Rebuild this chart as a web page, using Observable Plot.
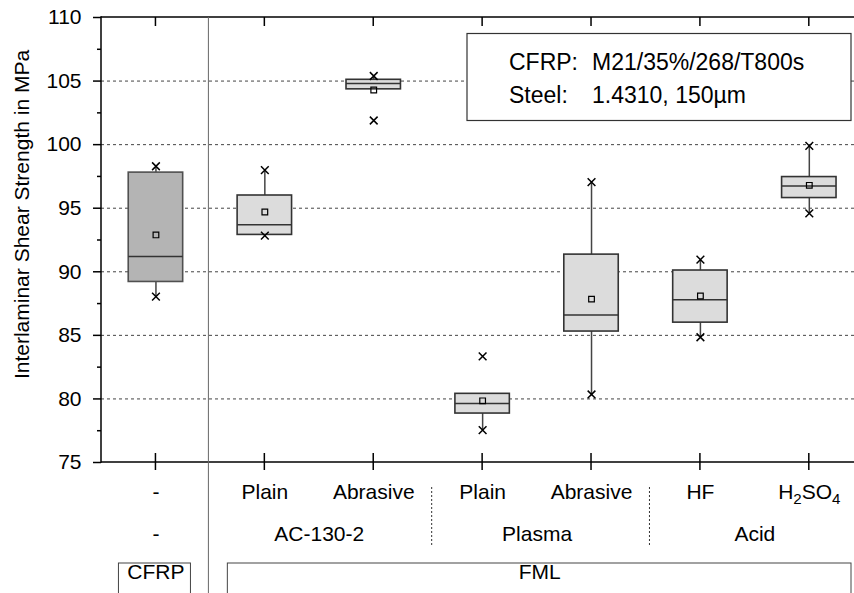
<!DOCTYPE html>
<html><head><meta charset="utf-8">
<script src="https://cdn.jsdelivr.net/npm/d3@7"></script>
<script src="https://cdn.jsdelivr.net/npm/@observablehq/plot@0.6"></script>
<style>
body{margin:0;background:#fff;}
#chart{width:854px;height:593px;overflow:hidden;}
</style>
</head><body><div id="chart"></div>
<script>
// ---- data ----
const categories = ["CFRP", "AC-130-2 Plain", "AC-130-2 Abrasive", "Plasma Plain", "Plasma Abrasive", "Acid HF", "Acid H2SO4"];
const treatment  = ["-", "Plain", "Abrasive", "Plain", "Abrasive", "HF", "H2SO4"];
const groupName  = ["-", "AC-130-2", "AC-130-2", "Plasma", "Plasma", "Acid", "Acid"];
const material   = ["CFRP", "FML", "FML", "FML", "FML", "FML", "FML"];
const q1         = [89.2, 92.9, 104.35, 78.85, 85.3, 86.0, 95.8];
const median     = [91.2, 93.7, 104.8, 79.65, 86.6, 87.8, 96.75];
const q3         = [97.8, 96.0, 105.1, 80.4, 91.35, 90.1, 97.45];
const mean       = [92.9, 94.7, 104.3, 79.85, 87.85, 88.1, 96.8];
const whiskerLow = [88.05, 92.85, 104.35, 77.55, 80.35, 84.85, 94.6];
const whiskerHigh= [98.3, 98.0, 105.35, 80.4, 97.05, 90.95, 99.9];
const minVal     = [88.05, 92.85, 101.9, 77.55, 80.35, 84.85, 94.6];
const maxVal     = [98.3, 98.0, 105.4, 83.35, 97.05, 90.95, 99.9];
const majorTicks = [75, 80, 85, 90, 95, 100, 105, 110];
const minorTicks = [77.5, 82.5, 87.5, 92.5, 97.5, 102.5, 107.5];
const gridValues = [80, 85, 90, 95, 100, 105];
const yLabel = "Interlaminar Shear Strength in MPa";
const noteLines = [["CFRP:", "M21/35%/268/T800s"], ["Steel:", "1.4310, 150µm"]];

// ---- derived tables ----
const idx = categories.map((_, i) => i);
const boxes = idx.map(i => ({
  i, cat: categories[i], q1: q1[i], median: median[i], q3: q3[i], mean: mean[i],
  wLow: whiskerLow[i], wHigh: whiskerHigh[i], min: minVal[i], max: maxVal[i], mat: material[i]
}));
const extremes = boxes.flatMap(b => [{i: b.i, v: b.min}, {i: b.i, v: b.max}]);
const treatRows = idx.map(i => ({i, t: treatment[i]}));
function spans(arr) {
  const out = [];
  arr.forEach((name, i) => {
    const last = out[out.length - 1];
    if (last && last.name === name) last.end = i; else out.push({name, start: i, end: i});
  });
  return out.map(s => ({...s, c: (s.start + s.end) / 2}));
}
const groupSpans = spans(groupName);
const matSpans = spans(material);

const BW = 0.25;
const FS = 21;
const font = "'Liberation Sans', Arial, Helvetica, sans-serif";

function decorations(index, scales, values, dims) {
  const x = scales.x, y = scales.y;
  const W = dims.width, H = dims.height;
  const g = d3.create("svg:g");
  const yTop = y(110), yBot = y(75), xL = x(-0.5);
  const line = (x1, y1, x2, y2, a = {}) => {
    const l = g.append("line").attr("x1", x1).attr("y1", y1).attr("x2", x2).attr("y2", y2)
      .attr("stroke", "#000").attr("stroke-width", 1.5);
    for (const k in a) l.attr(k, a[k]);
    return l;
  };
  // axes
  line(xL, yTop, W, yTop);
  line(xL, yBot, W, yBot);
  line(xL, yTop - 0.75, xL, yBot + 0.75);
  for (const i of idx) {
    line(x(i), yTop, x(i), yTop + 9);
    line(x(i), yBot - 9, x(i), yBot + 8);
  }
  // material separators (solid)
  matSpans.slice(1).forEach(s => {
    const xs = x(s.start - 0.5) - 1.5;
    line(xs, yTop, xs, H + 5, {stroke: "#666", "stroke-width": 1});
  });
  // group separators (dotted) inside same material
  groupSpans.slice(1).forEach(s => {
    if (material[s.start] !== material[s.start - 1]) return;
    const xs = x(s.start - 0.5) + 4;
    line(xs, yBot + 25, xs, yBot + 83, {stroke: "#333", "stroke-width": 1, "stroke-dasharray": "2,2"});
  });
  // material boxes
  matSpans.forEach((s, k) => {
    const x1 = x(s.start) - 37;
    const x2 = k === matSpans.length - 1 ? W - 3 : x(s.end) + 35;
    g.append("rect").attr("x", x1).attr("y", yBot + 101).attr("width", x2 - x1).attr("height", 60)
      .attr("fill", "none").attr("stroke", "#444").attr("stroke-width", 1);
  });
  // note box
  const bx = W - 387, by = yTop + 16.5;
  g.append("rect").attr("x", bx).attr("y", by).attr("width", 384).attr("height", 87)
    .attr("fill", "#fff").attr("stroke", "#333").attr("stroke-width", 1.2);
  noteLines.forEach(([a, b], k) => {
    const yy = by + 36.5 + k * 32.7;
    g.append("text").attr("x", bx + 42).attr("y", yy).attr("font-size", 23)
      .attr("text-anchor", "start").attr("fill", "#000").text(a);
    g.append("text").attr("x", bx + 125).attr("y", yy).attr("font-size", 23)
      .attr("text-anchor", "start").attr("fill", "#000").text(b);
  });
  return g.node();
}

const plot = Plot.plot({
  width: 854, height: 593,
  marginLeft: 101, marginRight: 0, marginTop: 17, marginBottom: 131,
  x: {type: "linear", domain: [-0.5, 6.415], axis: null},
  y: {domain: [75, 110], axis: null, label: null},
  style: {fontFamily: font, fontSize: FS + "px", background: "white", color: "#000", overflow: "visible"},
  marks: [
    Plot.ruleY(gridValues, {stroke: "#444", strokeWidth: 1, strokeDasharray: "3,3"}),
    Plot.ruleX(boxes, {x: "i", y1: "wLow", y2: "wHigh", stroke: "#444", strokeWidth: 1.5}),
    Plot.rect(boxes, {
      x1: d => d.i - BW, x2: d => d.i + BW, y1: "q1", y2: "q3",
      fill: d => d.mat === "CFRP" ? "#b4b4b4" : "#dcdcdc",
      stroke: d => d.mat === "CFRP" ? "#505050" : "#333", strokeWidth: 1.6
    }),
    Plot.ruleY(boxes, {x1: d => d.i - BW, x2: d => d.i + BW, y: "median", stroke: "#333", strokeWidth: 1.5}),
    Plot.dot(boxes, {x: "i", y: "mean", symbol: "square", r: 3.2, stroke: "#000", fill: "none", strokeWidth: 1.2}),
    Plot.dot(extremes, {x: "i", y: "v", symbol: "times", r: 3.6, stroke: "#000", strokeWidth: 1.5}),
    Plot.axisY({ticks: majorTicks, tickSize: 8, tickPadding: 12, label: null, strokeWidth: 1.5, fontSize: FS, fill: "#000"}),
    Plot.axisY({ticks: minorTicks, tickSize: 4, tickFormat: () => "", label: null, strokeWidth: 1.5}),
    decorations,
    Plot.text([yLabel], {text: d => d, frameAnchor: "left", textAnchor: "middle", rotate: -90, dx: -79, dy: -25.5, fill: "#000", fontSize: FS}),
    Plot.text(treatRows, {x: "i", text: "t", frameAnchor: "bottom", dy: 36, fill: "#000", fontSize: FS}),
    Plot.text(groupSpans, {x: "c", text: "name", frameAnchor: "bottom", dy: 78.5, fill: "#000", fontSize: FS}),
    Plot.text(matSpans, {x: d => d.name === "FML" ? d.c + 0.025 : d.c, text: "name", frameAnchor: "bottom", dy: 116, fill: "#000", fontSize: FS})
  ]
});
document.getElementById("chart").appendChild(plot);

// chemical-formula subscripts
d3.select(plot).selectAll("text").filter(function () { return this.textContent === "H2SO4"; })
  .each(function () {
    const t = d3.select(this);
    t.text(null);
    t.append("tspan").text("H");
    t.append("tspan").attr("dy", 5).attr("font-size", "72%").text("2");
    t.append("tspan").attr("dy", -5).text("SO");
    t.append("tspan").attr("dy", 5).attr("font-size", "72%").text("4");
  });
</script>
</body></html>
